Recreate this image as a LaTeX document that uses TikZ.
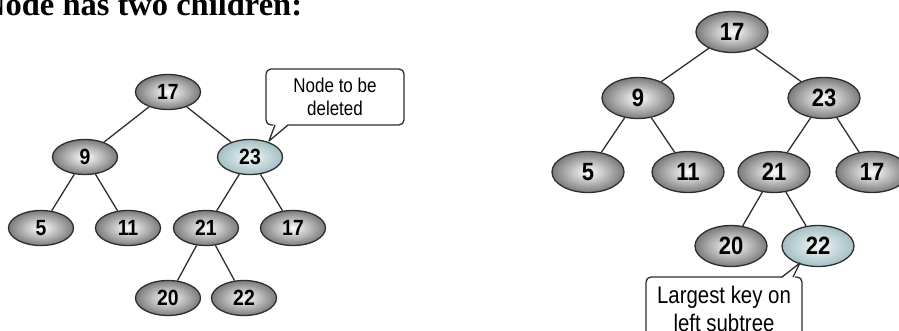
\documentclass[tikz,border=0pt]{standalone}
\usepackage{fontspec}
\setmainfont{Liberation Serif}
\newfontfamily\narrowsans{Liberation Sans}[FakeStretch=0.85]
\newfontfamily\numsans{Liberation Sans}[FakeStretch=0.88]
\usetikzlibrary{shapes.geometric}
\definecolor{linec}{HTML}{2E2E2E}
\definecolor{hiin}{HTML}{F2F8F8}
\definecolor{hiout}{HTML}{A3BFC4}
\tikzset{
  ellbase/.style={ellipse, draw=linec, line width=1.3pt, inner sep=0pt,
    shading=radial, inner color=white, outer color=black!52},
  lnode/.style={ellbase, minimum width=65pt, minimum height=35pt,
    font=\numsans\bfseries\fontsize{22}{22}\selectfont},
  rnode/.style={ellbase, minimum width=72pt, minimum height=41pt,
    font=\numsans\bfseries\fontsize{25}{25}\selectfont},
  hil/.style={inner color=hiin, outer color=hiout},
  edge/.style={draw=linec, line width=1.3pt},
  callbox/.style={draw=linec, fill=white, line width=1.3pt, rounded corners=5pt,
    align=center, inner sep=0pt},
}
\begin{document}
\begin{tikzpicture}[x=1pt, y=-1pt]
\useasboundingbox (0,0) rectangle (899,330);
\clip (0,0) rectangle (899,330);
% title
\node[anchor=base west, inner sep=0pt, font=\bfseries\fontsize{32.5}{32.5}\selectfont] (title) at (-18,15) {Node has two children:};
% left tree
\node[lnode] (a17) at (168,92) {17};
\node[lnode] (a9) at (85,157) {9};
\node[lnode,hil] (a23) at (250,157) {23};
\node[lnode] (a5) at (41,228) {5};
\node[lnode] (a11) at (128,228) {11};
\node[lnode] (a21) at (206,228) {21};
\node[lnode] (a17b) at (293,228) {17};
\node[lnode] (a20) at (168,298) {20};
\node[lnode] (a22) at (244,298) {22};
\draw[edge] (a17) -- (a9);
\draw[edge] (a17) -- (a23);
\draw[edge] (a9) -- (a5);
\draw[edge] (a9) -- (a11);
\draw[edge] (a23) -- (a21);
\draw[edge] (a23) -- (a17b);
\draw[edge] (a21) -- (a20);
\draw[edge] (a21) -- (a22);
% left callout
\node[callbox, minimum width=138pt, minimum height=56pt,
  font=\narrowsans\fontsize{20}{23}\selectfont] (ca) at (335,97) {Node to be\\deleted};
\coordinate (catip) at (269,141);
\fill[white] (274,123) -- (catip) -- (289,123) -- cycle;
\draw[edge, line join=round] (275,125) -- (catip) -- (288,125);
% right tree
\node[rnode] (b17) at (732,32) {17};
\node[rnode] (b9) at (638,98) {9};
\node[rnode] (b23) at (824,98) {23};
\node[rnode] (b5) at (588,172) {5};
\node[rnode] (b11) at (688,172) {11};
\node[rnode] (b21) at (774,172) {21};
\node[rnode] (b17b) at (872,172) {17};
\node[rnode] (b20) at (731,246) {20};
\node[rnode,hil] (b22) at (818,246) {22};
\draw[edge] (b17) -- (b9);
\draw[edge] (b17) -- (b23);
\draw[edge] (b9) -- (b5);
\draw[edge] (b9) -- (b11);
\draw[edge] (b23) -- (b21);
\draw[edge] (b23) -- (b17b);
\draw[edge] (b21) -- (b20);
\draw[edge] (b21) -- (b22);
% right callout
\node[callbox, minimum width=156pt, minimum height=64pt,
  font=\narrowsans\fontsize{24}{28}\selectfont] (cb) at (724,309) {Largest key on\\left subtree};
\coordinate (cbtip) at (800,263);
\fill[white] (781,279) -- (cbtip) -- (794,279) -- cycle;
\draw[edge, line join=round] (782,277) -- (cbtip) -- (793,277);
\end{tikzpicture}
\end{document}
